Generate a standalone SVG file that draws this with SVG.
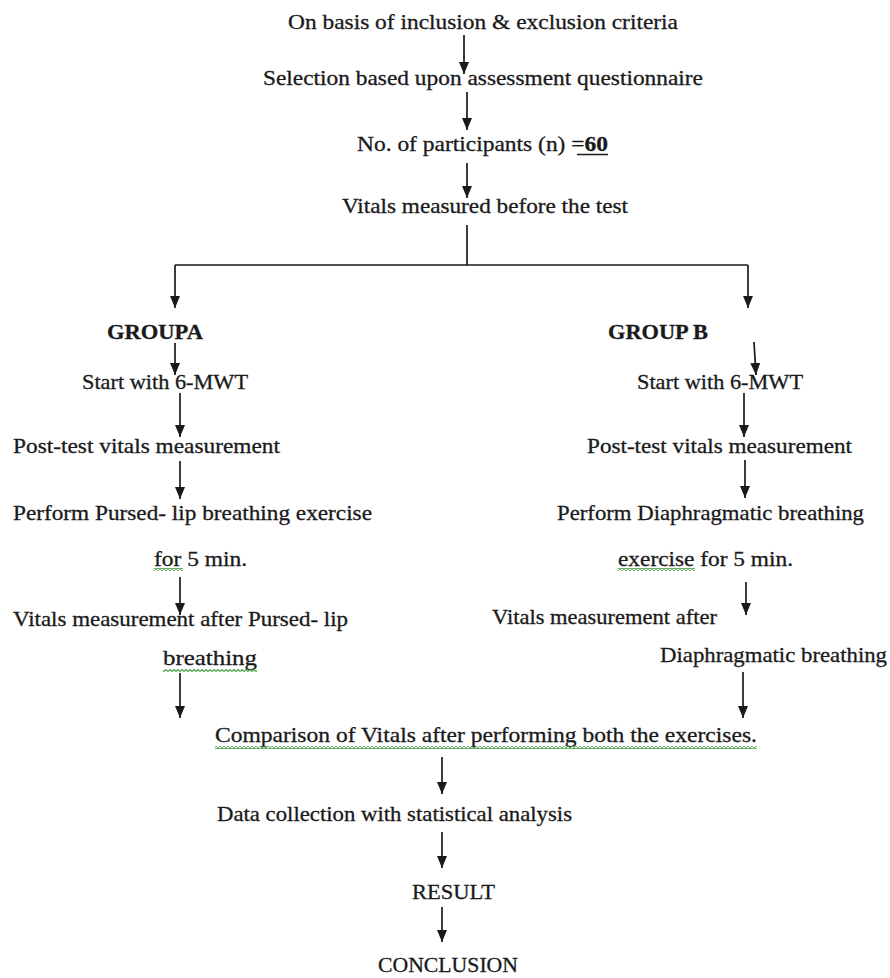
<svg xmlns="http://www.w3.org/2000/svg" width="890" height="978" viewBox="0 0 890 978">
<style>
  .t { font-family: "Liberation Serif", "Times New Roman", serif; font-size: 21px; fill: #1a1a1a; stroke: #1a1a1a; stroke-width: 0.3; }
  .b { font-weight: bold; }
  .c { stroke: #1a1a1a; stroke-width: 1.7; fill: none; }
  .a { marker-end: url(#arr); }
  .sq { fill: url(#wave); }
</style>
<defs>
  <marker id="arr" viewBox="0 0 12 10" refX="12" refY="5" markerWidth="12" markerHeight="10" markerUnits="userSpaceOnUse" orient="auto">
    <path d="M0,0 L12,5 L0,10 z" fill="#1a1a1a"/>
  </marker>
  <pattern id="wave" width="4" height="3" patternUnits="userSpaceOnUse">
    <path d="M0,2.5 L2,0.5 L4,2.5" stroke="#3f9f3f" stroke-width="1.1" fill="none"/>
  </pattern>
</defs>
<rect width="890" height="978" fill="#ffffff"/>

<g id="connectors">
  <line class="c a" x1="464" y1="35" x2="464" y2="74"/>
  <line class="c a" x1="467" y1="92" x2="467" y2="130"/>
  <line class="c a" x1="467" y1="163" x2="467" y2="198"/>
  <polyline class="c" points="467,225 467,265 175,265"/>
  <line class="c" x1="467" y1="265" x2="748" y2="265"/>
  <line class="c a" x1="175" y1="265" x2="175" y2="308"/>
  <line class="c a" x1="748" y1="265" x2="748" y2="308"/>
  <line class="c a" x1="175" y1="343" x2="175" y2="375"/>
  <line class="c a" x1="180" y1="393" x2="180" y2="437"/>
  <line class="c a" x1="180" y1="461" x2="180" y2="499"/>
  <line class="c a" x1="180" y1="577" x2="180" y2="615"/>
  <line class="c a" x1="180" y1="673" x2="180" y2="718"/>
  <line class="c a" x1="754" y1="342" x2="756" y2="375"/>
  <line class="c a" x1="744" y1="393" x2="744" y2="437"/>
  <line class="c a" x1="745" y1="460" x2="745" y2="498"/>
  <line class="c a" x1="746" y1="582" x2="746" y2="615"/>
  <line class="c a" x1="743" y1="672" x2="743" y2="718"/>
  <line class="c a" x1="442" y1="757" x2="442" y2="794"/>
  <line class="c a" x1="442" y1="832" x2="442" y2="868"/>
  <line class="c a" x1="442" y1="907" x2="442" y2="942"/>
</g>

<g id="n-criteria">
  <text class="t" x="288" y="29" textLength="390" lengthAdjust="spacingAndGlyphs">On basis of inclusion &amp; exclusion criteria</text>
</g>
<g id="n-selection">
  <text class="t" x="263" y="85" textLength="440" lengthAdjust="spacingAndGlyphs">Selection based upon assessment questionnaire</text>
</g>
<g id="n-participants">
  <text class="t" x="357" y="151" textLength="251" lengthAdjust="spacingAndGlyphs">No. of participants (n) =<tspan class="b">60</tspan></text>
  <line x1="577" y1="154.5" x2="608" y2="154.5" stroke="#1a1a1a" stroke-width="1.5"/>
</g>
<g id="n-vitals-before">
  <text class="t" x="342" y="213" textLength="286" lengthAdjust="spacingAndGlyphs">Vitals measured before the test</text>
</g>

<g id="n-groupa">
  <text class="t b" x="107" y="339" textLength="96" lengthAdjust="spacingAndGlyphs">GROUPA</text>
</g>
<g id="n-a-start">
  <text class="t" x="82" y="389" textLength="166" lengthAdjust="spacingAndGlyphs">Start with 6-MWT</text>
</g>
<g id="n-a-post">
  <text class="t" x="13" y="453" textLength="267" lengthAdjust="spacingAndGlyphs">Post-test vitals measurement</text>
</g>
<g id="n-a-perform">
  <text class="t" x="13" y="520" textLength="359" lengthAdjust="spacingAndGlyphs">Perform Pursed- lip breathing exercise</text>
  <text class="t" x="154" y="566" textLength="93" lengthAdjust="spacingAndGlyphs">for 5 min.</text>
  <rect class="sq" x="154" y="568" width="29" height="3"/>
</g>
<g id="n-a-vitals">
  <text class="t" x="13" y="626" textLength="335" lengthAdjust="spacingAndGlyphs">Vitals measurement after Pursed- lip</text>
  <text class="t" x="163" y="665" textLength="94" lengthAdjust="spacingAndGlyphs">breathing</text>
  <rect class="sq" x="163" y="669" width="94" height="3"/>
</g>

<g id="n-groupb">
  <text class="t b" x="608" y="339" textLength="100" lengthAdjust="spacingAndGlyphs">GROUP B</text>
</g>
<g id="n-b-start">
  <text class="t" x="637" y="389" textLength="166" lengthAdjust="spacingAndGlyphs">Start with 6-MWT</text>
</g>
<g id="n-b-post">
  <text class="t" x="587" y="453" textLength="265" lengthAdjust="spacingAndGlyphs">Post-test vitals measurement</text>
</g>
<g id="n-b-perform">
  <text class="t" x="557" y="520" textLength="307" lengthAdjust="spacingAndGlyphs">Perform Diaphragmatic breathing</text>
  <text class="t" x="618" y="566" textLength="175" lengthAdjust="spacingAndGlyphs">exercise for 5 min.</text>
  <rect class="sq" x="618" y="568" width="77" height="3"/>
</g>
<g id="n-b-vitals">
  <text class="t" x="492" y="624" textLength="225" lengthAdjust="spacingAndGlyphs">Vitals measurement after</text>
  <text class="t" x="660" y="662" textLength="227" lengthAdjust="spacingAndGlyphs">Diaphragmatic breathing</text>
</g>

<g id="n-comparison">
  <text class="t" x="215" y="742" textLength="542" lengthAdjust="spacingAndGlyphs">Comparison of Vitals after performing both the exercises.</text>
  <rect class="sq" x="215" y="746" width="542" height="3"/>
</g>
<g id="n-data">
  <text class="t" x="217" y="821" textLength="355" lengthAdjust="spacingAndGlyphs">Data collection with statistical analysis</text>
</g>
<g id="n-result">
  <text class="t" x="412" y="899" textLength="83" lengthAdjust="spacingAndGlyphs">RESULT</text>
</g>
<g id="n-conclusion">
  <text class="t" x="378" y="972" textLength="140" lengthAdjust="spacingAndGlyphs">CONCLUSION</text>
</g>
</svg>
